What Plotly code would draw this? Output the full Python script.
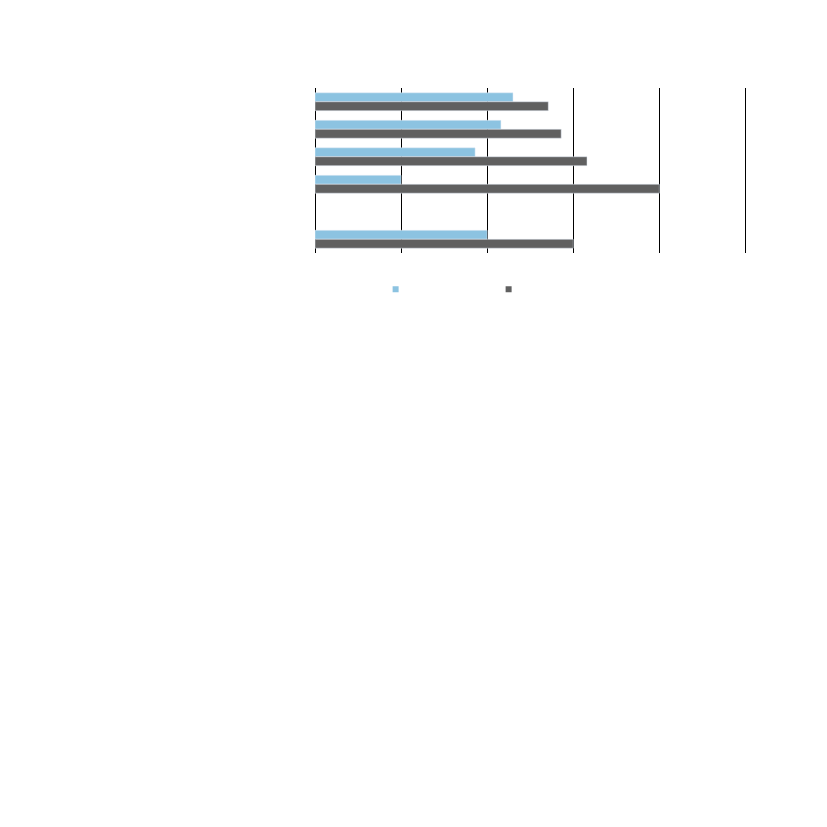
import plotly.graph_objects as go

# category slots, top to bottom (the fifth slot is empty in the chart)
categories = ["c1", "c2", "c3", "c4", "c5", "c6"]
light_values = [23.0, 21.6, 18.6, 10.0, None, 20.0]
dark_values = [27.1, 28.6, 31.6, 40.0, None, 30.0]

light_color = "#8CC3E1"
dark_color = "#606060"

fig = go.Figure()
fig.add_trace(go.Bar(y=categories, x=light_values, orientation="h",
                     marker_color=light_color, showlegend=False))
fig.add_trace(go.Bar(y=categories, x=dark_values, orientation="h",
                     marker_color=dark_color, showlegend=False))

# legend entries without text, drawn as small squares
fig.add_trace(go.Scatter(x=[None], y=[None], mode="markers", name=" ",
                         marker=dict(symbol="square", size=6, color=light_color)))
fig.add_trace(go.Scatter(x=[None], y=[None], mode="markers", name="  ",
                         marker=dict(symbol="square", size=6, color=dark_color)))

fig.update_layout(
    width=827, height=827,
    margin=dict(l=307, r=87, t=80, b=582),
    paper_bgcolor="white", plot_bgcolor="white",
    barmode="group", bargap=0.35, bargroupgap=0,
    showlegend=True,
    legend=dict(orientation="h", x=0.14, y=-0.22, xanchor="left", yanchor="middle",
                entrywidth=68, entrywidthmode="pixels", font=dict(size=8),
                bgcolor="rgba(0,0,0,0)"),
)
fig.update_xaxes(range=[0, 50.3], dtick=10, showgrid=True, gridcolor="black", gridwidth=1,
                 zeroline=True, zerolinecolor="black", zerolinewidth=1,
                 showticklabels=False, showline=False)
fig.update_yaxes(autorange="reversed", showticklabels=False, showgrid=False,
                 zeroline=False, showline=False)

fig.write_html("out.html")
